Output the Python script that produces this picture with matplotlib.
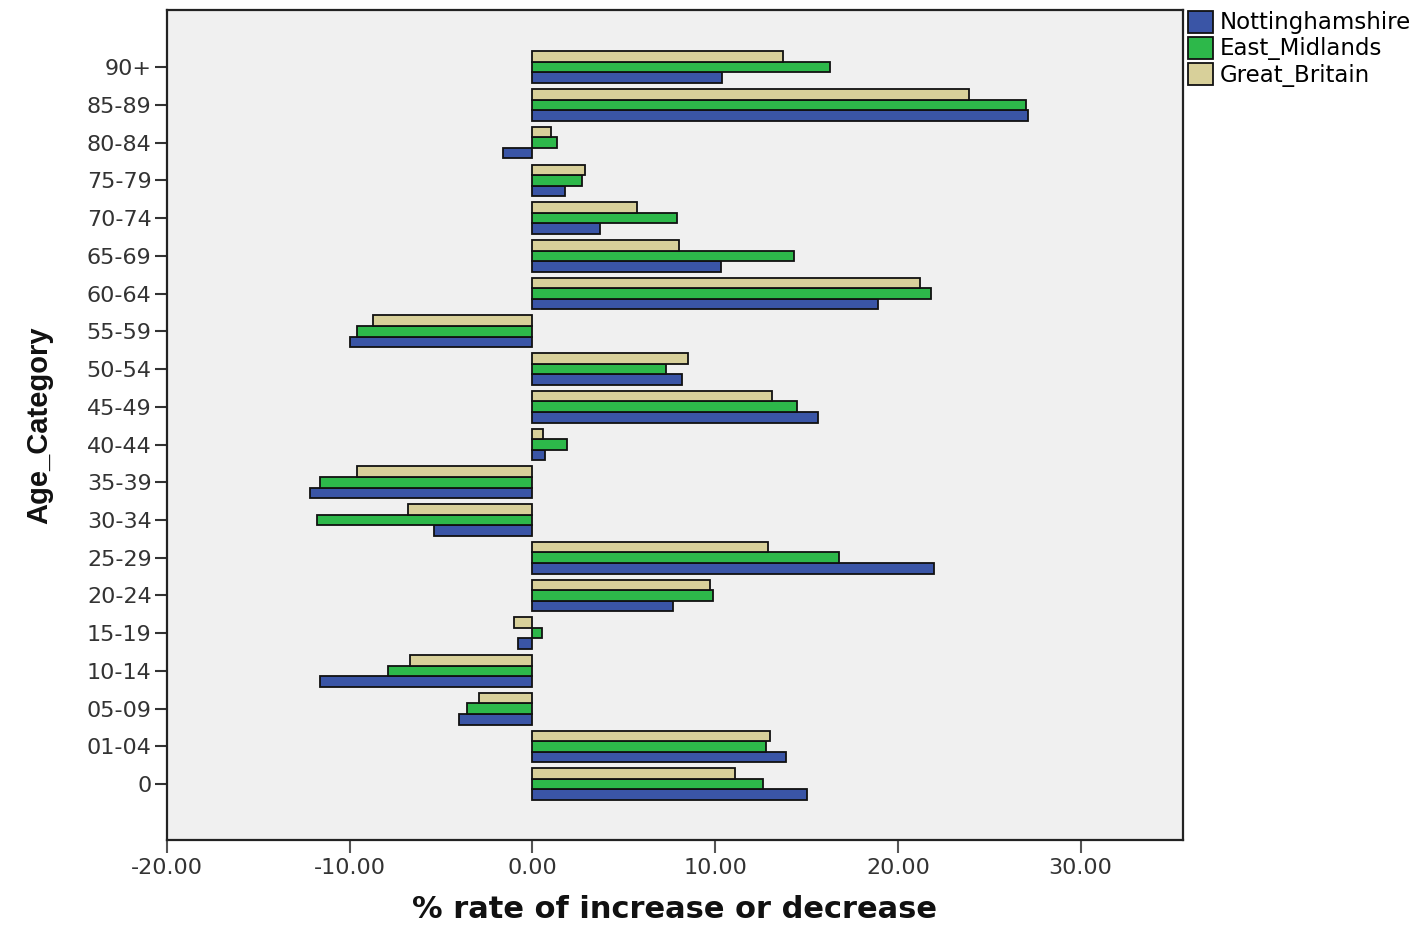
import numpy as np
import matplotlib.pyplot as plt

# age categories, bottom to top
categories = ['0', '01-04', '05-09', '10-14', '15-19', '20-24', '25-29', '30-34',
              '35-39', '40-44', '45-49', '50-54', '55-59', '60-64', '65-69',
              '70-74', '75-79', '80-84', '85-89', '90+']

nottinghamshire = [15.0, 13.9, -4.0, -11.6, -0.8, 7.7, 22.0, -5.4, -12.2, 0.7,
                   15.6, 8.2, -10.0, 18.9, 10.3, 3.7, 1.8, -1.6, 27.1, 10.4]
east_midlands = [12.6, 12.8, -3.6, -7.9, 0.5, 9.9, 16.8, -11.8, -11.6, 1.9,
                 14.5, 7.3, -9.6, 21.8, 14.3, 7.9, 2.7, 1.35, 27.0, 16.3]
great_britain = [11.1, 13.0, -2.9, -6.7, -1.0, 9.7, 12.9, -6.8, -9.6, 0.6,
                 13.1, 8.5, -8.7, 21.2, 8.0, 5.7, 2.9, 1.0, 23.9, 13.7]

plt.rcParams['font.family'] = ['DejaVu Sans']

fig = plt.figure(figsize=(14.21, 9.26), dpi=100)
ax = fig.add_axes([0.1175, 0.0929, 0.715, 0.8961])
ax.set_facecolor('#F0F0F0')

y = np.arange(len(categories))
h = 0.28
ax.barh(y - h, nottinghamshire, height=h, color='#3A55A6', edgecolor='#111111',
        linewidth=1.3, label='Nottinghamshire')
ax.barh(y, east_midlands, height=h, color='#2DB84A', edgecolor='#111111',
        linewidth=1.3, label='East_Midlands')
ax.barh(y + h, great_britain, height=h, color='#D8D09A', edgecolor='#111111',
        linewidth=1.3, label='Great_Britain')

ax.set_xlim(-20, 35.6)
ax.set_ylim(-1.48, 20.51)
ax.set_yticks(y)
ax.set_yticklabels(categories, fontsize=16, color='#333333')
ax.set_xticks([-20, -10, 0, 10, 20, 30])
ax.set_xticklabels(['-20.00', '-10.00', '0.00', '10.00', '20.00', '30.00'],
                   fontsize=16, color='#333333')
ax.tick_params(axis='y', length=9, width=1.5, direction='out', color='#333333', pad=2)
ax.tick_params(axis='x', length=9, width=1.5, direction='out', color='#555555', pad=4)
for s in ax.spines.values():
    s.set_linewidth(1.6)
    s.set_color('#222222')

ax.set_xlabel('% rate of increase or decrease', fontsize=22, fontweight='bold',
              labelpad=12, color='#111111')
ax.set_ylabel('Age_Category', fontsize=21, fontweight='bold', labelpad=24,
              family='Liberation Sans', color='#111111')

ax.legend(loc='upper left', bbox_to_anchor=(1.0, 1.005), frameon=False, fontsize=16.5,
          handlelength=1.1, handleheight=1.1, handletextpad=0.3, labelspacing=0.1,
          borderaxespad=0.1, borderpad=0.1)

fig.savefig('out.png', dpi=100)
